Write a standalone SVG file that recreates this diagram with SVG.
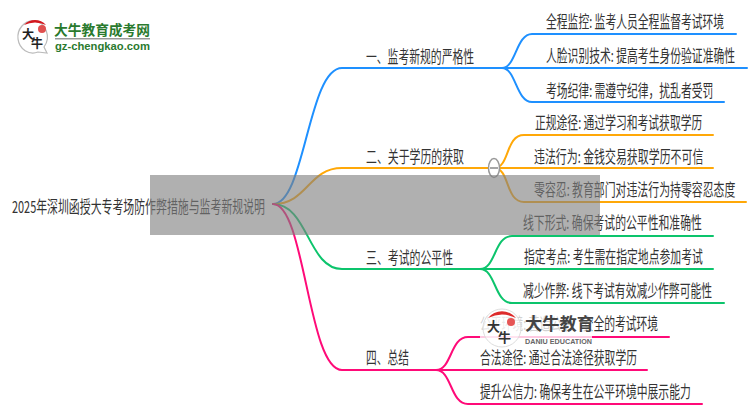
<svg xmlns="http://www.w3.org/2000/svg" width="750" height="410" viewBox="0 0 750 410">
<style>
text{font-family:"Noto Sans CJK SC","Liberation Sans",sans-serif;fill:#333;font-size:16.5px;dominant-baseline:central}
.c{fill:none;stroke-width:2;stroke-linecap:round}
.b{stroke:#1e90ff}.o{stroke:#ffa808}.g{stroke:#0cc46c}.p{stroke:#ff0a78}
</style>
<rect width="750" height="410" fill="#fff"/>
<g id="connectors">
<path class="c b" d="M273 204C305 204 308 68 342 68H502"/>
<path class="c b" d="M502 68C516 68 516 34 532 34H736M502 68H747M502 68C516 68 516 102 532 102H724"/>
<path class="c o" d="M273 204C308 204 308 168 342 168H494"/>
<path class="c o" d="M494 168C510 168 505 135 524 135H713M494 168H713M494 168C510 168 505 202 524 202H746"/>
<path class="c g" d="M273 204C308 204 308 269 342 269H480"/>
<path class="c g" d="M480 269C496 269 494 236 512 236H713M480 269H713M480 269C496 269 494 303 512 303H724"/>
<path class="c p" d="M273 204C305 204 308 370 342 370H436"/>
<path class="c p" d="M436 370C452 370 450 337 468 337H669M436 370H647M436 370C452 370 450 404 468 404H702"/>
</g>
<g id="root"><text transform="translate(12 206) scale(.68 1)" textLength="372" lengthAdjust="spacingAndGlyphs">2025年深圳函授大专考场防作弊措施与监考新规说明</text></g>
<g id="n1"><text transform="translate(366 56) scale(.68 1)" textLength="159" lengthAdjust="spacingAndGlyphs">一、监考新规的严格性</text></g>
<g id="n1a"><text transform="translate(546 21) scale(.68 1)" textLength="262" lengthAdjust="spacingAndGlyphs">全程监控: 监考人员全程监督考试环境</text></g>
<g id="n1b"><text transform="translate(546 55) scale(.68 1)" textLength="278" lengthAdjust="spacingAndGlyphs">人脸识别技术: 提高考生身份验证准确性</text></g>
<g id="n1c"><text transform="translate(546 90) scale(.68 1)" textLength="246" lengthAdjust="spacingAndGlyphs">考场纪律: 需遵守纪律，扰乱者受罚</text></g>
<g id="n2"><text transform="translate(366 156) scale(.68 1)" textLength="144" lengthAdjust="spacingAndGlyphs">二、关于学历的获取</text>
<ellipse cx="494" cy="168" rx="5.5" ry="9.5" fill="#fff" stroke="#999" stroke-width="1.5"/><path d="M490 168H498" stroke="#888" stroke-width="1.5"/></g>
<g id="n2a"><text transform="translate(535 122) scale(.68 1)" textLength="246" lengthAdjust="spacingAndGlyphs">正规途径: 通过学习和考试获取学历</text></g>
<g id="n2b"><text transform="translate(534 156) scale(.68 1)" textLength="249" lengthAdjust="spacingAndGlyphs">违法行为: 金钱交易获取学历不可信</text></g>
<g id="n2c"><text transform="translate(534 189) scale(.68 1)" textLength="296" lengthAdjust="spacingAndGlyphs">零容忍: 教育部门对违法行为持零容忍态度</text></g>
<g id="n3"><text transform="translate(366 257) scale(.68 1)" textLength="128" lengthAdjust="spacingAndGlyphs">三、考试的公平性</text></g>
<g id="n3a"><text transform="translate(523 222) scale(.68 1)" textLength="263" lengthAdjust="spacingAndGlyphs">线下形式: 确保考试的公平性和准确性</text></g>
<g id="n3b"><text transform="translate(524 256) scale(.68 1)" textLength="263" lengthAdjust="spacingAndGlyphs">指定考点: 考生需在指定地点参加考试</text></g>
<g id="n3c"><text transform="translate(523 290) scale(.68 1)" textLength="278" lengthAdjust="spacingAndGlyphs">减少作弊: 线下考试有效减少作弊可能性</text></g>
<g id="n4"><text transform="translate(366 357) scale(.68 1)" textLength="63" lengthAdjust="spacingAndGlyphs">四、总结</text></g>
<g id="n4a"><text transform="translate(480 323) scale(.68 1)" textLength="262" lengthAdjust="spacingAndGlyphs">公平环境: 营造公平、安全的考试环境</text></g>
<g id="n4b"><text transform="translate(480 357) scale(.68 1)" textLength="231" lengthAdjust="spacingAndGlyphs">合法途径: 通过合法途径获取学历</text></g>
<g id="n4c"><text transform="translate(480 391) scale(.68 1)" textLength="310" lengthAdjust="spacingAndGlyphs">提升公信力: 确保考生在公平环境中展示能力</text></g>
<g id="overlay"><rect x="150" y="175" width="450" height="60" fill="#808080" fill-opacity=".62"/></g>
<g id="logo-top">
<path d="M34 21A15 16 0 1 0 38 52L47 53L44 47A15 16 0 0 0 34 21Z" fill="#fff" stroke="#bbb" stroke-width="1.2"/>
<path d="M24 25A15 16 0 0 1 46 25Q35 20 24 25Z" fill="#d3181f"/>
<circle cx="42" cy="29" r="4" fill="#e0504f"/>
<text x="22" y="33" style="font-size:12px;font-weight:700;fill:#222">大</text>
<text x="31" y="42" style="font-size:12px;font-weight:700;fill:#222">牛</text>
<text x="54" y="29" textLength="96" lengthAdjust="spacingAndGlyphs" style="font-size:14px;font-weight:700;fill:#2a7a2e">大牛教育成考网</text>
<rect x="55" y="38" width="95" height="1.5" fill="#999"/>
<text x="55" y="46" textLength="95" lengthAdjust="spacingAndGlyphs" style="font-family:'Liberation Sans',sans-serif;font-size:10.5px;font-weight:700;fill:#2a7a2e">gz-chengkao.com</text>
</g>
<g id="logo-bottom">
<rect x="480" y="309" width="112" height="35" fill="#fff" fill-opacity=".78"/>
<circle cx="502" cy="328" r="19" fill="#fff" fill-opacity=".5" stroke="#ddd"/>
<path d="M488 318A18 18 0 0 1 516 318Q502 311 488 318Z" fill="#dd2a2a"/>
<circle cx="511" cy="322" r="4" fill="#e65555"/>
<text x="487" y="325" style="font-size:13px;font-weight:700;fill:#333">大</text>
<text x="498" y="336" style="font-size:13px;font-weight:700;fill:#333">牛</text>
<text x="525" y="322" textLength="69" lengthAdjust="spacingAndGlyphs" style="font-size:17px;font-weight:700;fill:#444">大牛教育</text>
<text x="525" y="341" textLength="67" lengthAdjust="spacingAndGlyphs" style="font-family:'Liberation Sans',sans-serif;font-size:6.5px;font-weight:700;fill:#666">DANIU EDUCATION</text>
</g>
</svg>
